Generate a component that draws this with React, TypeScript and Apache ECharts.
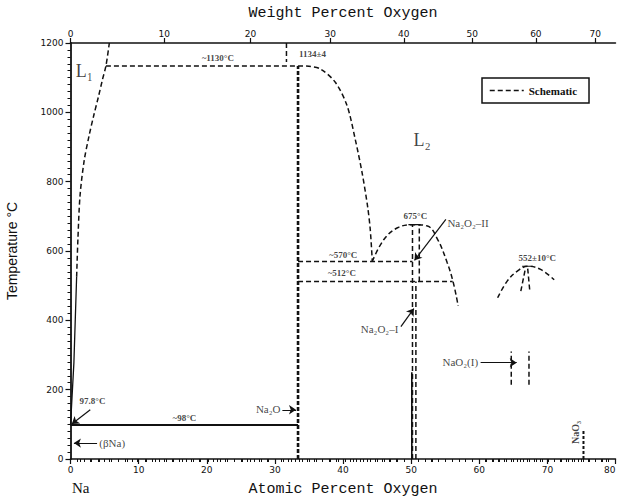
import React, { useEffect, useRef } from "react";
import * as echarts from "echarts";

// ---- tick labels ----
const atomicTicks = [0, 10, 20, 30, 40, 50, 60, 70, 80];
const tempTicks = [0, 200, 400, 600, 800, 1000, 1200];
const wtTickLabels = [0, 10, 20, 30, 40, 50, 60, 70];
const wtMinorTicks = Array.from({ length: 73 }, (_, i) => i);

// ---- phase boundaries (atomic % O, °C) ----
const l1Solid = [[0, 97.8], [0.5, 278], [0.9, 526]];
const l1Dashed = [[0.9, 526], [1.1, 640], [1.4, 760], [2.0, 860], [2.7, 930], [3.4, 990], [4.1, 1045], [4.7, 1095], [5.2, 1134], [5.7, 1200]];
const monotectic = [[5.2, 1134], [33.4, 1134]];
const na2oTop = [[31.7, 1200], [31.7, 1145]];
const na2oLine = [[33.4, 0], [33.4, 1134]];
const l2Curve = [[33.4, 1134], [35.0, 1133], [36.7, 1125], [38.9, 1086], [40.6, 1019], [41.8, 922], [42.8, 826], [43.6, 730], [44.0, 662], [44.3, 570]];
const eutectic98 = [[0, 97.8], [33.4, 97.8]];
const line570 = [[33.4, 570], [50.2, 570]];
const line512 = [[33.4, 512], [56.1, 512]];
const na2o2Dome = [[44.3, 570], [46.0, 633], [48.0, 667], [50.3, 676], [52.4, 672], [53.9, 633], [55.3, 566], [56.2, 508], [56.9, 442]];
const na2o2A = [[50.2, 0], [50.2, 676]];
const na2o2B = [[51.2, 512], [51.2, 676]];
const na2o2C = [[50.7, 0], [50.7, 512]];
const na2o2Solid = [[50.1, 0], [50.1, 250]];
const na2o2Peak = [[49.6, 676], [51.4, 676]];
const nao2Dome = [[62.7, 465], [64.1, 513], [65.6, 542], [67.1, 556], [69.0, 547], [71.0, 517]];
const nao2TieA = [[66.1, 484], [66.8, 552]];
const nao2TieB = [[67.4, 489], [67.1, 552]];
const nao2Peak = [[66.3, 556], [67.9, 556]];
const nao2IA = [[64.7, 214], [64.7, 310]];
const nao2IB = [[67.3, 214], [67.3, 310]];
const nao3Line = [[75.3, 0], [75.3, 84]];

// ---- annotations: text, x, y, align, fontSize, rotate ----
const annotations: [string, number, number, string, number, number][] = [
  ["L₁", 2.1, 1119, "center", 18, 0],
  ["L₂", 51.7, 920, "center", 18, 0],
  ["~1130°C", 21.7, 1156, "center", 9, 0],
  ["1134±4", 35.6, 1166, "center", 9, 0],
  ["~570°C", 40.1, 588, "center", 9, 0],
  ["~512°C", 39.9, 535, "center", 9, 0],
  ["675°C", 50.7, 700, "center", 9, 0],
  ["552±10°C", 68.6, 578, "center", 9, 0],
  ["Na₂O₂–II", 55.4, 680, "left", 11, 0],
  ["Na₂O₂–I", 48.2, 373, "right", 11, 0],
  ["NaO₂(I)", 59.9, 278, "right", 11, 0],
  ["Na₂O", 30.9, 142, "right", 11, 0],
  ["97.8°C", 1.4, 165, "left", 9, 0],
  ["~98°C", 16.8, 117, "center", 9, 0],
  ["(βNa)", 4.3, 46, "left", 11, 0],
  ["NaO₃", 74.2, 75, "center", 10, 90],
];

// ---- arrows: from, to ----
const arrows = [
  [[2.9, 142], [0.2, 101]],
  [[3.9, 46], [0.5, 46]],
  [[31.1, 142], [33.1, 142]],
  [[55.1, 691], [50.5, 573]],
  [[48.5, 382], [50.4, 434]],
  [[60.2, 278], [65.5, 278]],
];

const toAtomic = (w: number) => ((w / 16) / (w / 16 + (100 - w) / 22.99)) * 100;

const INK = "#111";

export default function App() {
  const ref = useRef<HTMLDivElement>(null);
  useEffect(() => {
    if (!ref.current) return;
    const chart = echarts.init(ref.current, null, { renderer: "svg" });
    const dash = { type: [5, 3] as any, width: 1.5, color: INK };

    const lineSeries = (name: string, data: number[][], style: any, smooth = 0) => ({
      name,
      type: "line",
      data,
      showSymbol: false,
      symbol: "none",
      smooth,
      color: INK,
      itemStyle: { color: INK },
      lineStyle: style,
      silent: true,
      z: 3,
    });

    const wtMajorAtomic = wtTickLabels.map(toAtomic);
    const wtMinorAtomic = wtMinorTicks.map(toAtomic);

    const labelFont = "'Liberation Serif', 'DejaVu Serif', serif";
    const tickFont = "'DejaVu Sans', sans-serif";

    chart.setOption({
      animation: false,
      backgroundColor: "#fff",
      grid: { left: 70.5, right: 1.5, top: 43, bottom: 41, containLabel: false, outerBoundsMode: "none" },
      legend: {
        data: ["Schematic"],
        left: 482,
        top: 78,
        borderColor: INK,
        borderWidth: 1.5,
        borderRadius: 0,
        padding: [7, 12, 7, 7],
        itemWidth: 34,
        itemHeight: 12,
        itemGap: 6,
        itemStyle: { opacity: 0 },
        lineStyle: { type: [5, 3], width: 1.5, color: INK },
        textStyle: { fontFamily: labelFont, fontWeight: "bold", fontSize: 11, color: INK },
      },
      xAxis: [
        {
          type: "value",
          position: "bottom",
          min: 0,
          max: 80,
          interval: 10,
          name: "Atomic Percent Oxygen",
          nameLocation: "middle",
          nameGap: 23,
          nameTextStyle: { fontFamily: "'Liberation Mono', monospace", fontSize: 15, color: INK },
          axisLine: { onZero: false, lineStyle: { color: INK, width: 1.5 } },
          axisTick: { length: 5, lineStyle: { color: INK, width: 1.2 } },
          minorTick: { show: true, splitNumber: 10, length: 3, lineStyle: { color: INK, width: 1 } },
          splitLine: { show: false },
          axisLabel: { fontSize: 9, margin: 6, color: INK, fontFamily: tickFont, showMaxLabel: true, alignMaxLabel: "right" },
          data: atomicTicks,
        },
        {
          type: "value",
          position: "top",
          min: 0,
          max: 80,
          name: "Weight Percent Oxygen",
          nameLocation: "middle",
          nameGap: 22,
          nameTextStyle: { fontFamily: "'Liberation Mono', monospace", fontSize: 15, color: INK },
          axisLine: { onZero: false, lineStyle: { color: INK, width: 1.5 } },
          axisTick: { customValues: wtMajorAtomic, length: 5, lineStyle: { color: INK, width: 1.2 } },
          splitLine: { show: false },
          axisLabel: {
            customValues: wtMajorAtomic,
            fontSize: 9,
            margin: 5,
            color: INK,
            fontFamily: tickFont,
            formatter: (v: number) => {
              let best = 0;
              wtMajorAtomic.forEach((a, i) => {
                if (Math.abs(a - v) < Math.abs(wtMajorAtomic[best] - v)) best = i;
              });
              return String(wtTickLabels[best]);
            },
          },
        },
        {
          type: "value",
          position: "top",
          min: 0,
          max: 80,
          axisLine: { show: false },
          axisTick: { show: true, customValues: wtMinorAtomic, inside: true, length: 3, lineStyle: { color: INK, width: 1 } },
          axisLabel: { show: false, customValues: wtMinorAtomic },
          splitLine: { show: false },
        },
      ],
      yAxis: {
        type: "value",
        min: 0,
        max: 1200,
        interval: 200,
        name: "Temperature °C",
        nameLocation: "middle",
        nameGap: 52,
        nameTextStyle: { fontFamily: "'Liberation Sans', sans-serif", fontSize: 14, color: INK },
        axisLine: { show: true, onZero: false, lineStyle: { color: INK, width: 1.8 } },
        axisTick: { length: 5, lineStyle: { color: INK, width: 1.2 } },
        minorTick: { show: true, splitNumber: 10, length: 3, lineStyle: { color: INK, width: 1 } },
        splitLine: { show: false },
        axisLabel: { fontSize: 9, margin: 7, color: INK, fontFamily: tickFont, formatter: (v: number) => String(v) },
        data: tempTicks,
      },
      series: [
        lineSeries("L1 solid", l1Solid, { width: 1.3, color: INK }),
        lineSeries("L1", l1Dashed, dash, 0.3),
        lineSeries("monotectic", monotectic, dash),
        lineSeries("Na2O top", na2oTop, dash),
        lineSeries("Na2O", na2oLine, { type: [4, 2], width: 2.6, color: INK }),
        lineSeries("Schematic", l2Curve, dash, 0.3),
        lineSeries("98", eutectic98, { width: 2, color: INK }),
        lineSeries("570", line570, dash),
        lineSeries("512", line512, dash),
        lineSeries("Na2O2 dome", na2o2Dome, dash, 0.4),
        lineSeries("Na2O2 a", na2o2A, dash),
        lineSeries("Na2O2 b", na2o2B, dash),
        lineSeries("Na2O2 c", na2o2C, dash),
        lineSeries("Na2O2 solid", na2o2Solid, { width: 1.6, color: INK }),
        lineSeries("Na2O2 peak", na2o2Peak, { width: 1.2, color: INK }),
        lineSeries("NaO2 dome", nao2Dome, dash, 0.4),
        lineSeries("NaO2 tie a", nao2TieA, dash),
        lineSeries("NaO2 tie b", nao2TieB, dash),
        lineSeries("NaO2 peak", nao2Peak, { width: 1.2, color: INK }),
        lineSeries("NaO2 I a", nao2IA, dash),
        lineSeries("NaO2 I b", nao2IB, dash),
        lineSeries("NaO3", nao3Line, { type: [3, 2], width: 2, color: INK }),
        {
          name: "arrows",
          type: "lines",
          coordinateSystem: "cartesian2d",
          symbol: ["none", "arrow"],
          symbolSize: 7,
          silent: true,
          lineStyle: { color: INK, width: 1.2, opacity: 1 },
          data: arrows.map((c) => ({ coords: c })),
          z: 4,
        },
        {
          name: "annotations",
          type: "scatter",
          symbolSize: 1,
          itemStyle: { color: "rgba(0,0,0,0)" },
          silent: true,
          z: 5,
          data: annotations.map(([t, x, y, align, size, rot]) => ({
            value: [x, y],
            label: {
              show: true,
              formatter: t,
              position: [0, 0],
              align,
              verticalAlign: "middle",
              fontSize: size,
              rotate: rot,
              fontFamily: labelFont,
              fontWeight: size <= 10 ? "bold" : "normal",
              color: INK,
            },
          })),
        },
      ],
      graphic: [
        {
          type: "text",
          left: 72,
          top: 480,
          style: { text: "Na", fontSize: 15, fontFamily: labelFont, fill: INK },
        },
      ],
    });
    return () => chart.dispose();
  }, []);
  return (
    <div
      ref={ref}
      style={{ position: "fixed", left: 0, top: 0, width: 617, height: 500, background: "#fff" }}
    />
  );
}
